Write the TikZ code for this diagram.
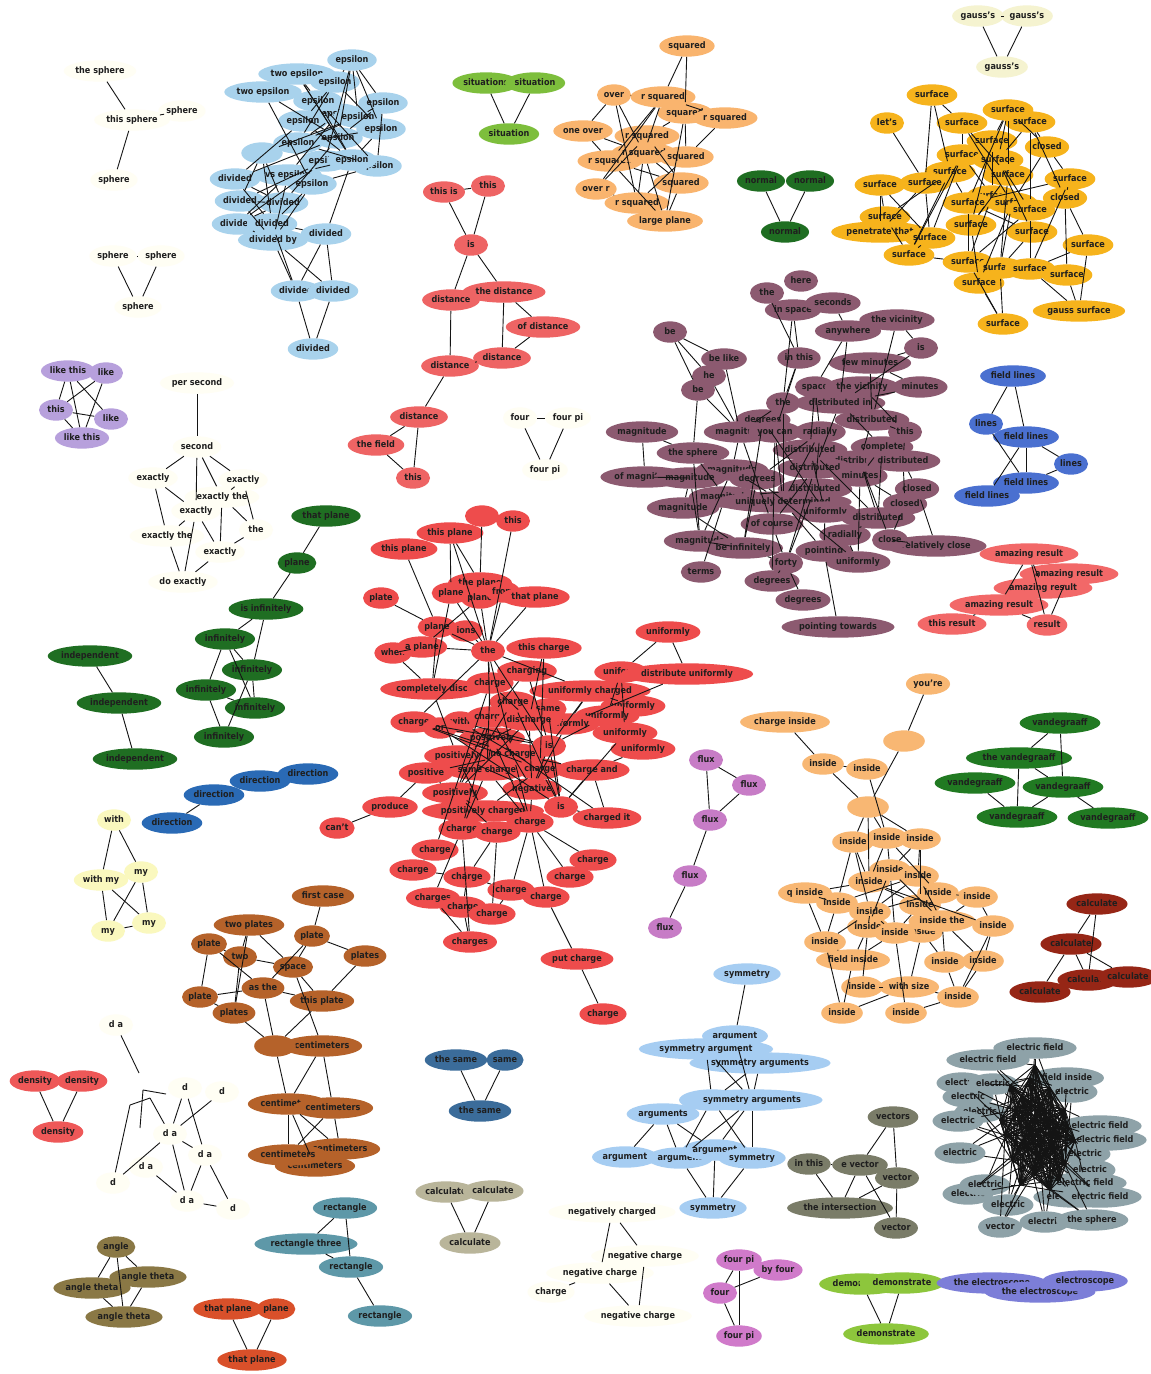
\documentclass[tikz,border=0pt]{standalone}
\usepackage{fontspec}
\setmainfont{DejaVu Sans Condensed}
\usetikzlibrary{shapes.geometric}
\definecolor{cLB}{HTML}{A8D2EC}
\definecolor{cGS}{HTML}{7DBE3C}
\definecolor{cLO}{HTML}{F9B46E}
\definecolor{cDG}{HTML}{1F6E22}
\definecolor{cCR}{HTML}{F5F3D0}
\definecolor{cAM}{HTML}{F6B31C}
\definecolor{cWT}{HTML}{FFFEF4}
\definecolor{cRD}{HTML}{EE6464}
\definecolor{cRB}{HTML}{EE4C4C}
\definecolor{cLV}{HTML}{B7A0DC}
\definecolor{cBL}{HTML}{2A6AB5}
\definecolor{cPY}{HTML}{FAF8BE}
\definecolor{cMV}{HTML}{8C5A70}
\definecolor{cFL}{HTML}{4A70D0}
\definecolor{cPR}{HTML}{F26868}
\definecolor{cFX}{HTML}{C77CC6}
\definecolor{cIN}{HTML}{F8B773}
\definecolor{cVG}{HTML}{217A22}
\definecolor{cDR}{HTML}{962616}
\definecolor{cBR}{HTML}{B5622A}
\definecolor{cDN}{HTML}{EE5858}
\definecolor{cSB}{HTML}{3B6C9A}
\definecolor{cTN}{HTML}{B9B59A}
\definecolor{cTL}{HTML}{5E98A8}
\definecolor{cOL}{HTML}{8A7845}
\definecolor{cOR}{HTML}{D9502A}
\definecolor{cSY}{HTML}{A6CDF2}
\definecolor{cPK}{HTML}{D07ACA}
\definecolor{cGR}{HTML}{7A7C68}
\definecolor{cYG}{HTML}{8DC63C}
\definecolor{cEL}{HTML}{8EA2A8}
\definecolor{cPW}{HTML}{7C7ED8}
\tikzset{
  nd/.style={ellipse, fill=#1, inner xsep=1pt, inner ysep=3.2pt, minimum width=34pt, minimum height=21pt, text height=6.8pt, text depth=1.9pt, font=\fontsize{9}{9}\selectfont\bfseries, text=black!88},
  ed/.style={line width=0.9pt, black!92},
}
\newcommand\mkN[5]{\node[nd=#1] (#2) at (#3,#4) {#5};}
\newcommand\mkE[1]{\foreach \a/\b in {#1} {\draw[ed] (\a) -- (\b);}}
\begin{document}
\begin{tikzpicture}[x=1pt,y=-1pt]
\fill[white] (0,0) rectangle (1151,1374);
\useasboundingbox (0,0) rectangle (1151,1374);
% ---- sphere clusters
\mkN{cWT}{s1}{100}{71}{the sphere}
\mkN{cWT}{s2}{132}{120}{this sphere}
\mkN{cWT}{s3}{182}{111}{sphere}
\mkN{cWT}{s4}{114}{180}{sphere}
\mkN{cWT}{s5}{113}{256}{sphere}
\mkN{cWT}{s6}{161}{256}{sphere}
\mkN{cWT}{s7}{138}{307}{sphere}
% ---- epsilon cluster
\mkN{cLB}{e1}{352}{60}{epsilon}
\mkN{cLB}{e2}{297}{74}{two epsilon}
\mkN{cLB}{e3}{335}{82}{epsilon}
\mkN{cLB}{e4}{263}{92}{two epsilon}
\mkN{cLB}{e5}{318}{101}{epsilon}
\mkN{cLB}{e6}{383}{103}{epsilon}
\mkN{cLB}{e7}{338}{114}{epsilon}
\mkN{cLB}{e8}{358}{117}{epsilon}
\mkN{cLB}{e9}{303}{121}{epsilon}
\mkN{cLB}{e10}{381}{129}{epsilon}
\mkN{cLB}{e11}{338}{138}{epsilon}
\mkN{cLB}{e12}{298}{143}{epsilon}
\mkN{cLB}{e15}{377}{166}{epsilon}
\mkN{cLB}{e13}{325}{161}{epsilon}
\mkN{cLB}{e14}{352}{160}{epsilon}
\mkN{cLB}{e16}{262}{153}{\phantom{epsilo}}
\mkN{cLB}{e17}{235}{179}{divided}
\mkN{cLB}{e18}{288}{175}{vs epsilon}
\mkN{cLB}{e19}{312}{184}{epsilon}
\mkN{cLB}{e20}{240}{201}{divided}
\mkN{cLB}{e21}{283}{203}{divided}
\mkN{cLB}{e22}{237}{224}{divided}
\mkN{cLB}{e23}{272}{224}{divided}
\mkN{cLB}{e24}{273}{240}{divided by}
\mkN{cLB}{e25}{326}{234}{divided}
\mkN{cLB}{e26}{296}{291}{divided}
\mkN{cLB}{e27}{333}{291}{divided}
\mkN{cLB}{e28}{313}{349}{divided}
% ---- situations
\mkN{cGS}{si1}{486}{83}{situations}
\mkN{cGS}{si2}{535}{83}{situation}
\mkN{cGS}{si3}{509}{134}{situation}
% ---- squared
\mkN{cLO}{q1}{687}{46}{squared}
\mkN{cLO}{q2}{614}{95}{over}
\mkN{cLO}{q3}{663}{97}{r squared}
\mkN{cLO}{q4}{685}{113}{squared}
\mkN{cLO}{q5}{725}{118}{r squared}
\mkN{cLO}{q6}{583}{131}{one over}
\mkN{cLO}{q7}{647}{136}{r squared}
\mkN{cLO}{q8}{610}{161}{r squared}
\mkN{cLO}{q9}{644}{153}{r squared}
\mkN{cLO}{q10}{686}{157}{squared}
\mkN{cLO}{q11}{596}{189}{over r}
\mkN{cLO}{q12}{681}{183}{squared}
\mkN{cLO}{q13}{637}{203}{r squared}
\mkN{cLO}{q14}{665}{221}{large plane}
% ---- normal
\mkN{cDG}{n1}{761}{181}{normal}
\mkN{cDG}{n2}{810}{181}{normal}
\mkN{cDG}{n3}{785}{232}{normal}
% ---- gauss's
\mkN{cCR}{g1}{978}{16}{gauss's}
\mkN{cCR}{g2}{1027}{16}{gauss's}
\mkN{cCR}{g3}{1002}{67}{gauss's}
% ---- surface
\mkN{cAM}{u1}{932}{95}{surface}
\mkN{cAM}{u2}{887}{123}{let's}
\mkN{cAM}{u3}{1008}{110}{surface}
\mkN{cAM}{u4}{962}{123}{surface}
\mkN{cAM}{u5}{1030}{122}{surface}
\mkN{cAM}{u6}{992}{141}{surface}
\mkN{cAM}{u7}{1047}{147}{closed}
\mkN{cAM}{u8}{962}{155}{surface}
\mkN{cAM}{u9}{998}{160}{surface}
\mkN{cAM}{u10}{950}{172}{surface}
\mkN{cAM}{u11}{1008}{175}{surface}
\mkN{cAM}{u12}{1070}{179}{surface}
\mkN{cAM}{u13}{880}{185}{surface}
\mkN{cAM}{u14}{925}{183}{surface}
\mkN{cAM}{u15}{992}{196}{surface}
\mkN{cAM}{u16}{1065}{198}{closed}
\mkN{cAM}{u17}{968}{203}{surface}
\mkN{cAM}{u18}{1012}{203}{surface}
\mkN{cAM}{u19}{1030}{210}{surface}
\mkN{cAM}{u20}{885}{217}{surface}
\mkN{cAM}{u21}{880}{232}{penetrate that}
\mkN{cAM}{u22}{930}{238}{surface}
\mkN{cAM}{u23}{971}{225}{surface}
\mkN{cAM}{u24}{1032}{232}{surface}
\mkN{cAM}{u25}{1088}{245}{surface}
\mkN{cAM}{u26}{909}{255}{surface}
\mkN{cAM}{u27}{968}{262}{surface}
\mkN{cAM}{u28}{1000}{268}{surface}
\mkN{cAM}{u29}{1030}{269}{surface}
\mkN{cAM}{u30}{1067}{275}{surface}
\mkN{cAM}{u31}{979}{283}{surface}
\mkN{cAM}{u32}{1079}{311}{gauss surface}
\mkN{cAM}{u33}{1003}{324}{surface}
% ---- distance
\mkN{cRD}{d1}{444}{192}{this is}
\mkN{cRD}{d2}{488}{186}{this}
\mkN{cRD}{d3}{471}{245}{is}
\mkN{cRD}{d4}{451}{300}{distance}
\mkN{cRD}{d5}{504}{292}{the distance}
\mkN{cRD}{d6}{543}{327}{of distance}
\mkN{cRD}{d7}{502}{358}{distance}
\mkN{cRD}{d8}{450}{366}{distance}
\mkN{cRD}{d9}{419}{417}{distance}
\mkN{cRD}{d10}{376}{445}{the field}
\mkN{cRD}{d11}{413}{478}{this}
% ---- four pi (text)
\mkN{cWT}{f1}{520}{418}{four}
\mkN{cWT}{f2}{568}{418}{four pi}
\mkN{cWT}{f3}{545}{470}{four pi}
% ---- like this
\mkN{cLV}{l1}{68}{371}{like this}
\mkN{cLV}{l2}{106}{373}{like}
\mkN{cLV}{l3}{56}{410}{this}
\mkN{cLV}{l4}{111}{419}{like}
\mkN{cLV}{l5}{82}{438}{like this}
% ---- exactly (text)
\mkN{cWT}{x1}{197}{383}{per second}
\mkN{cWT}{x2}{197}{447}{second}
\mkN{cWT}{x3}{153}{478}{exactly}
\mkN{cWT}{x4}{243}{480}{exactly}
\mkN{cWT}{x5}{222}{497}{exactly the}
\mkN{cWT}{x6}{196}{511}{exactly}
\mkN{cWT}{x7}{256}{530}{the}
\mkN{cWT}{x8}{167}{536}{exactly the}
\mkN{cWT}{x9}{220}{552}{exactly}
\mkN{cWT}{x10}{183}{582}{do exactly}
% ---- infinitely
\mkN{cDG}{m1}{326}{516}{that plane}
\mkN{cDG}{m2}{297}{563}{plane}
\mkN{cDG}{m3}{266}{609}{is infinitely}
\mkN{cDG}{m4}{225}{639}{infinitely}
\mkN{cDG}{m5}{252}{670}{infinitely}
\mkN{cDG}{m6}{206}{690}{infinitely}
\mkN{cDG}{m7}{255}{708}{infinitely}
\mkN{cDG}{m8}{224}{737}{infinitely}
% ---- independent
\mkN{cDG}{i1}{90}{656}{independent}
\mkN{cDG}{i2}{119}{703}{independent}
\mkN{cDG}{i3}{135}{759}{independent}
% ---- direction
\mkN{cBL}{r1}{172}{823}{direction}
\mkN{cBL}{r2}{214}{795}{direction}
\mkN{cBL}{r3}{260}{781}{direction}
\mkN{cBL}{r4}{308}{774}{direction}
% ---- with my
\mkN{cPY}{w1}{114}{820}{with}
\mkN{cPY}{w2}{101}{880}{with my}
\mkN{cPY}{w3}{141}{872}{my}
\mkN{cPY}{w4}{108}{931}{my}
\mkN{cPY}{w5}{149}{923}{my}
% ---- big red cluster
\mkN{cRB}{b1}{482}{516}{\phantom{this}}
\mkN{cRB}{b2}{513}{521}{this}
\mkN{cRB}{b3}{450}{533}{this plane}
\mkN{cRB}{b4}{404}{549}{this plane}
\mkN{cRB}{b5}{480}{583}{the plane}
\mkN{cRB}{b6}{451}{593}{plane}
\mkN{cRB}{b7}{480}{598}{plane}
\mkN{cRB}{b8}{503}{592}{from}
\mkN{cRB}{b9}{535}{597}{that plane}
\mkN{cRB}{b10}{381}{598}{plate}
\mkN{cRB}{b12}{466}{631}{ions}
\mkN{cRB}{b11}{437}{627}{plane}
\mkN{cRB}{b14}{393}{653}{when}
\mkN{cRB}{b13}{422}{647}{a plane}
\mkN{cRB}{b15}{488}{651}{the}
\mkN{cRB}{b16}{544}{648}{this charge}
\mkN{cRB}{b17}{527}{671}{charging}
\mkN{cRB}{b18}{432}{689}{completely disc}
\mkN{cRB}{b19}{490}{683}{charge}
\mkN{cRB}{b22}{668}{632}{uniformly}
\mkN{cRB}{b23}{621}{672}{uniform}
\mkN{cRB}{b24}{687}{674}{distribute uniformly}
\mkN{cRB}{b21}{590}{691}{uniformly charged}
\mkN{cRB}{b20}{513}{702}{charge}
\mkN{cRB}{b25}{548}{709}{same}
\mkN{cRB}{b32}{633}{706}{uniformly}
\mkN{cRB}{b33}{607}{716}{uniformly}
\mkN{cRB}{b34}{625}{733}{uniformly}
\mkN{cRB}{b35}{643}{749}{uniformly}
\mkN{cRB}{b26}{414}{722}{charge}
\mkN{cRB}{b28}{460}{722}{with}
\mkN{cRB}{b27}{440}{728}{or}
\mkN{cRB}{b29}{490}{717}{charge}
\mkN{cRB}{b31}{567}{724}{uniformly}
\mkN{cRB}{b30}{529}{720}{discharge}
\mkN{cRB}{b36}{492}{738}{positively}
\mkN{cRB}{b37}{549}{746}{is}
\mkN{cRB}{b38}{457}{756}{positively}
\mkN{cRB}{b39}{513}{754}{no charge}
\mkN{cRB}{b40}{426}{773}{positive}
\mkN{cRB}{b41}{487}{770}{same charge}
\mkN{cRB}{b42}{540}{769}{charge}
\mkN{cRB}{b43}{592}{770}{charge and}
\mkN{cRB}{b44}{532}{789}{negative}
\mkN{cRB}{b45}{455}{793}{positively}
\mkN{cRB}{b46}{390}{807}{produce}
\mkN{cRB}{b47}{561}{807}{is}
\mkN{cRB}{b48}{483}{811}{positively charged}
\mkN{cRB}{b50}{607}{818}{charged it}
\mkN{cRB}{b51}{462}{829}{charge}
\mkN{cRB}{b52}{497}{832}{charge}
\mkN{cRB}{b49}{530}{822}{charge}
\mkN{cRB}{b53}{435}{850}{charge}
\mkN{cRB}{b54}{593}{860}{charge}
\mkN{cRB}{b55}{413}{870}{charge}
\mkN{cRB}{b56}{570}{877}{charge}
\mkN{cRB}{b57}{467}{877}{charge}
\mkN{cRB}{b58}{511}{890}{charge}
\mkN{cRB}{b59}{546}{897}{charge}
\mkN{cRB}{b60}{433}{898}{charges}
\mkN{cRB}{b61}{463}{907}{charge}
\mkN{cRB}{b62}{492}{914}{charge}
\mkN{cRB}{b63}{470}{942}{charges}
\mkN{cRB}{b64}{577}{959}{put charge}
\mkN{cRB}{b65}{603}{1014}{charge}
\mkN{cRB}{b66}{337}{828}{can't}
% ---- purple cluster
\mkN{cMV}{p1}{801}{281}{here}
\mkN{cMV}{p2}{767}{293}{the}
\mkN{cMV}{p3}{793}{310}{in space}
\mkN{cMV}{p4}{833}{303}{seconds}
\mkN{cMV}{p5}{897}{320}{the vicinity}
\mkN{cMV}{p6}{670}{332}{be}
\mkN{cMV}{p7}{848}{331}{anywhere}
\mkN{cMV}{p8}{921}{348}{is}
\mkN{cMV}{p9}{724}{359}{be like}
\mkN{cMV}{p10}{799}{358}{in this}
\mkN{cMV}{p11}{870}{363}{few minutes}
\mkN{cMV}{p12}{709}{376}{he}
\mkN{cMV}{p13}{698}{390}{be}
\mkN{cMV}{p14}{815}{387}{space}
\mkN{cMV}{p15}{862}{387}{the vicinity}
\mkN{cMV}{p16}{920}{387}{minutes}
\mkN{cMV}{p17}{783}{403}{the}
\mkN{cMV}{p18}{840}{403}{distributed in}
\mkN{cMV}{p19}{763}{420}{degrees}
\mkN{cMV}{p20}{872}{420}{distributed}
\mkN{cMV}{p21}{740}{432}{magnitude}
\mkN{cMV}{p22}{775}{432}{you can}
\mkN{cMV}{p23}{820}{432}{radially}
\mkN{cMV}{p24}{905}{432}{this}
\mkN{cMV}{p25}{642}{432}{magnitude}
\mkN{cMV}{p26}{693}{453}{the sphere}
\mkN{cMV}{p27}{882}{447}{complete}
\mkN{cMV}{p28}{810}{450}{distributed}
\mkN{cMV}{p30}{860}{461}{distributed}
\mkN{cMV}{p29}{903}{461}{distributed}
\mkN{cMV}{p31}{732}{470}{magnitude}
\mkN{cMV}{p32}{815}{468}{distributed}
\mkN{cMV}{p33}{645}{477}{of magnitude}
\mkN{cMV}{p34}{690}{478}{magnitude}
\mkN{cMV}{p35}{757}{479}{degrees}
\mkN{cMV}{p36}{860}{476}{minutes}
\mkN{cMV}{p37}{815}{489}{distributed}
\mkN{cMV}{p38}{917}{489}{closed}
\mkN{cMV}{p39}{725}{497}{magnitude}
\mkN{cMV}{p40}{783}{502}{uniquely determined}
\mkN{cMV}{p41}{683}{508}{magnitude}
\mkN{cMV}{p42}{905}{504}{closed}
\mkN{cMV}{p43}{825}{512}{uniformly}
\mkN{cMV}{p44}{878}{518}{distributed}
\mkN{cMV}{p45}{772}{524}{of course}
\mkN{cMV}{p46}{700}{541}{magnitude}
\mkN{cMV}{p47}{743}{548}{be infinitely}
\mkN{cMV}{p48}{845}{535}{radially}
\mkN{cMV}{p50}{936}{546}{relatively close}
\mkN{cMV}{p49}{890}{540}{close}
\mkN{cMV}{p51}{701}{572}{terms}
\mkN{cMV}{p52}{786}{563}{forty}
\mkN{cMV}{p53}{824}{551}{pointing}
\mkN{cMV}{p54}{858}{562}{uniformly}
\mkN{cMV}{p55}{772}{581}{degrees}
\mkN{cMV}{p56}{803}{600}{degrees}
\mkN{cMV}{p57}{838}{627}{pointing towards}
% ---- field lines
\mkN{cFL}{fl1}{1013}{376}{field lines}
\mkN{cFL}{fl2}{986}{424}{lines}
\mkN{cFL}{fl3}{1026}{437}{field lines}
\mkN{cFL}{fl4}{1071}{464}{lines}
\mkN{cFL}{fl5}{1026}{483}{field lines}
\mkN{cFL}{fl6}{987}{496}{field lines}
% ---- amazing result
\mkN{cPR}{a1}{1029}{554}{amazing result}
\mkN{cPR}{a2}{1069}{574}{amazing result}
\mkN{cPR}{a3}{1043}{588}{amazing result}
\mkN{cPR}{a4}{999}{605}{amazing result}
\mkN{cPR}{a5}{952}{624}{this result}
\mkN{cPR}{a6}{1047}{625}{result}
% ---- flux
\mkN{cFX}{fx1}{706}{760}{flux}
\mkN{cFX}{fx2}{749}{785}{flux}
\mkN{cFX}{fx3}{710}{820}{flux}
\mkN{cFX}{fx4}{690}{876}{flux}
\mkN{cFX}{fx5}{665}{928}{flux}
% ---- inside
\mkN{cIN}{v1}{928}{684}{you're}
\mkN{cIN}{v2}{785}{722}{charge inside}
\mkN{cIN}{v3}{904}{741}{\phantom{inside}}
\mkN{cIN}{v4}{823}{764}{inside}
\mkN{cIN}{v5}{867}{769}{inside}
\mkN{cIN}{v6}{868}{807}{\phantom{inside}}
\mkN{cIN}{v7}{853}{842}{inside}
\mkN{cIN}{v8}{887}{838}{inside}
\mkN{cIN}{v9}{920}{839}{inside}
\mkN{cIN}{v10}{890}{870}{inside}
\mkN{cIN}{v11}{918}{876}{inside}
\mkN{cIN}{v12}{869}{882}{inside}
\mkN{cIN}{v13}{938}{893}{inside}
\mkN{cIN}{v14}{805}{893}{q inside}
\mkN{cIN}{v15}{977}{897}{inside}
\mkN{cIN}{v16}{837}{903}{inside}
\mkN{cIN}{v17}{920}{905}{inside}
\mkN{cIN}{v18}{870}{912}{inside}
\mkN{cIN}{v19}{922}{932}{inside}
\mkN{cIN}{v20}{942}{921}{inside the}
\mkN{cIN}{v21}{868}{927}{inside}
\mkN{cIN}{v22}{895}{933}{inside}
\mkN{cIN}{v23}{993}{926}{inside}
\mkN{cIN}{v24}{825}{942}{inside}
\mkN{cIN}{v25}{853}{960}{field inside}
\mkN{cIN}{v26}{945}{962}{inside}
\mkN{cIN}{v27}{983}{961}{inside}
\mkN{cIN}{v28}{862}{987}{inside}
\mkN{cIN}{v29}{909}{987}{with size}
\mkN{cIN}{v30}{958}{997}{inside}
\mkN{cIN}{v31}{842}{1013}{inside}
\mkN{cIN}{v32}{906}{1013}{inside}
% ---- vandegraaff
\mkN{cVG}{vg1}{1060}{723}{vandegraaff}
\mkN{cVG}{vg2}{1019}{758}{the vandegraaff}
\mkN{cVG}{vg3}{975}{783}{vandegraaff}
\mkN{cVG}{vg4}{1063}{787}{vandegraaff}
\mkN{cVG}{vg5}{1017}{817}{vandegraaff}
\mkN{cVG}{vg6}{1108}{818}{vandegraaff}
% ---- calculate dark red
\mkN{cDR}{ca1}{1097}{904}{calculate}
\mkN{cDR}{ca2}{1071}{944}{calculate}
\mkN{cDR}{ca3}{1088}{980}{calculate}
\mkN{cDR}{ca4}{1128}{977}{calculate}
\mkN{cDR}{ca5}{1040}{992}{calculate}
% ---- plates
\mkN{cBR}{y1}{323}{896}{first case}
\mkN{cBR}{y2}{249}{925}{two plates}
\mkN{cBR}{y3}{312}{936}{plate}
\mkN{cBR}{y4}{209}{944}{plate}
\mkN{cBR}{y5}{240}{957}{two}
\mkN{cBR}{y6}{293}{967}{space}
\mkN{cBR}{y7}{365}{956}{plates}
\mkN{cBR}{y8}{263}{988}{as the}
\mkN{cBR}{y9}{200}{997}{plate}
\mkN{cBR}{y10}{322}{1001}{this plate}
\mkN{cBR}{y11}{234}{1013}{plates}
\mkN{cBR}{y13}{322}{1046}{centimeters}
\mkN{cBR}{y12}{275}{1046}{\phantom{inside}}
\mkN{cBR}{y14}{288}{1104}{centimeters}
\mkN{cBR}{y15}{333}{1108}{centimeters}
\mkN{cBR}{y18}{315}{1166}{centimeters}
\mkN{cBR}{y17}{340}{1149}{centimeters}
\mkN{cBR}{y16}{288}{1155}{centimeters}
% ---- density
\mkN{cDN}{dn1}{35}{1081}{density}
\mkN{cDN}{dn2}{82}{1081}{density}
\mkN{cDN}{dn3}{58}{1132}{density}
% ---- d a (text)
\mkN{cWT}{da1}{116}{1025}{d a}
\mkN{cWT}{da2}{185}{1088}{d}
\mkN{cWT}{da3}{222}{1092}{d}
\mkN{cWT}{da4}{170}{1134}{d a}
\mkN{cWT}{da5}{205}{1155}{d a}
\mkN{cWT}{da6}{146}{1167}{d a}
\mkN{cWT}{da7}{113}{1183}{d}
\mkN{cWT}{da8}{187}{1201}{d a}
\mkN{cWT}{da9}{233}{1209}{d}
\coordinate (h1) at (139,1073);
\coordinate (h2) at (143,1090);
\coordinate (h3) at (166,1094);
\coordinate (h4) at (140,1128);
\coordinate (h5) at (150,1098);
\coordinate (h6) at (130,1105);
% ---- the same
\mkN{cSB}{sm1}{456}{1060}{the same}
\mkN{cSB}{sm2}{505}{1060}{same}
\mkN{cSB}{sm3}{480}{1111}{the same}
% ---- calculate tan
\mkN{cTN}{ct1}{446}{1192}{calculate}
\mkN{cTN}{ct2}{493}{1191}{calculate}
\mkN{cTN}{ct3}{470}{1243}{calculate}
% ---- rectangle
\mkN{cTL}{rc1}{345}{1208}{rectangle}
\mkN{cTL}{rc2}{306}{1244}{rectangle three}
\mkN{cTL}{rc3}{351}{1267}{rectangle}
\mkN{cTL}{rc4}{380}{1316}{rectangle}
% ---- angle
\mkN{cOL}{an1}{116}{1247}{angle}
\mkN{cOL}{an2}{148}{1277}{angle theta}
\mkN{cOL}{an3}{92}{1288}{angle theta}
\mkN{cOL}{an4}{124}{1317}{angle theta}
% ---- that plane
\mkN{cOR}{tp1}{228}{1309}{that plane}
\mkN{cOR}{tp2}{276}{1309}{plane}
\mkN{cOR}{tp3}{252}{1360}{that plane}
% ---- symmetry
\mkN{cSY}{sy1}{747}{974}{symmetry}
\mkN{cSY}{sy2}{735}{1036}{argument}
\mkN{cSY}{sy3}{706}{1049}{symmetry argument}
\mkN{cSY}{sy4}{760}{1063}{symmetry arguments}
\mkN{cSY}{sy5}{712}{1100}{argument}
\mkN{cSY}{sy6}{752}{1100}{symmetry arguments}
\mkN{cSY}{sy7}{663}{1114}{arguments}
\mkN{cSY}{sy8}{625}{1157}{argument}
\mkN{cSY}{sy9}{680}{1158}{argument}
\mkN{cSY}{sy10}{715}{1150}{argument}
\mkN{cSY}{sy11}{752}{1158}{symmetry}
\mkN{cSY}{sy12}{713}{1208}{symmetry}
% ---- negatively charged (text)
\mkN{cWT}{ng1}{612}{1212}{negatively charged}
\mkN{cWT}{ng2}{645}{1256}{negative charge}
\mkN{cWT}{ng3}{600}{1273}{negative charge}
\mkN{cWT}{ng4}{551}{1292}{charge}
\mkN{cWT}{ng5}{638}{1316}{negative charge}
% ---- four pi pink
\mkN{cPK}{fp1}{739}{1260}{four pi}
\mkN{cPK}{fp2}{778}{1270}{by four}
\mkN{cPK}{fp3}{720}{1293}{four}
\mkN{cPK}{fp4}{739}{1336}{four pi}
% ---- vectors
\mkN{cGR}{vc1}{893}{1117}{vectors}
\mkN{cGR}{vc2}{809}{1164}{in this}
\mkN{cGR}{vc3}{860}{1165}{e vector}
\mkN{cGR}{vc4}{897}{1178}{vector}
\mkN{cGR}{vc5}{840}{1208}{the intersection}
\mkN{cGR}{vc6}{896}{1228}{vector}
% ---- demonstrate
\mkN{cYG}{dm1}{862}{1284}{demonstrate}
\mkN{cYG}{dm2}{902}{1283}{demonstrate}
\mkN{cYG}{dm3}{886}{1334}{demonstrate}
% ---- electric
\mkN{cEL}{el1}{1035}{1048}{electric field}
\mkN{cEL}{el2}{988}{1060}{electric field}
\mkN{cEL}{el5}{1067}{1078}{field inside}
\mkN{cEL}{el3}{962}{1083}{electric}
\mkN{cEL}{el4}{993}{1084}{electric}
\mkN{cEL}{el6}{1072}{1092}{electric}
\mkN{cEL}{el7}{968}{1097}{electric}
\mkN{cEL}{el8}{980}{1112}{electric}
\mkN{cEL}{el9}{958}{1121}{electric}
\mkN{cEL}{el10}{1100}{1126}{electric field}
\mkN{cEL}{el11}{1105}{1140}{electric field}
\mkN{cEL}{el12}{960}{1153}{electric}
\mkN{cEL}{el13}{1085}{1154}{electric}
\mkN{cEL}{el14}{1090}{1170}{electric}
\mkN{cEL}{el15}{1085}{1183}{electric field}
\mkN{cEL}{el16}{968}{1194}{electric}
\mkN{cEL}{el17}{985}{1185}{electric}
\mkN{cEL}{el19}{1075}{1197}{electric field}
\mkN{cEL}{el18}{1100}{1197}{electric field}
\mkN{cEL}{el20}{1008}{1205}{electric}
\mkN{cEL}{el21}{1000}{1227}{vector}
\mkN{cEL}{el22}{1045}{1222}{electric}
\mkN{cEL}{el23}{1092}{1220}{the sphere}
\coordinate (k1) at (1010,1085);
\coordinate (k2) at (1030,1078);
\coordinate (k3) at (1050,1088);
\coordinate (k4) at (1015,1110);
\coordinate (k5) at (1040,1105);
\coordinate (k6) at (1065,1110);
\coordinate (k7) at (1005,1135);
\coordinate (k8) at (1030,1130);
\coordinate (k9) at (1058,1135);
\coordinate (k10) at (1075,1140);
\coordinate (k11) at (1012,1160);
\coordinate (k12) at (1040,1158);
\coordinate (k13) at (1065,1165);
\coordinate (k14) at (1020,1185);
\coordinate (k15) at (1050,1190);
\coordinate (k16) at (1035,1065);
\coordinate (k17) at (1022,1098);
\coordinate (k18) at (1048,1120);
\coordinate (k19) at (1025,1145);
\coordinate (k20) at (1055,1150);
\coordinate (k21) at (1035,1175);
\coordinate (k22) at (1068,1125);
\coordinate (k23) at (1000,1120);
\coordinate (k24) at (1060,1180);
% ---- electroscope
\mkN{cPW}{es1}{992}{1283}{the electroscope}
\mkN{cPW}{es3}{1040}{1292}{the electroscope}
\mkN{cPW}{es2}{1085}{1281}{electroscope}
% ================= edges
\mkE{s1/s2, s2/s4, s2/s3, s5/s6, s5/s7, s6/s7}
\mkE{e1/e3, e1/e6, e1/e8, e1/e11, e1/e13, e1/e10, e2/e5, e2/e11, e2/e14, e3/e9, e3/e12, e3/e10, e4/e11, e4/e19, e5/e14, e5/e15, e6/e8, e6/e15, e6/e11, e7/e12, e7/e18, e8/e16, e8/e12, e9/e14, e9/e17, e10/e12, e10/e14, e11/e17, e11/e21, e12/e15, e13/e20, e14/e18, e13/e22, e16/e21, e16/e23, e17/e21, e17/e23, e18/e22, e18/e24, e19/e23, e14/e25, e20/e24, e20/e21, e21/e22, e22/e24, e23/e25, e15/e19, e24/e26, e24/e27, e25/e26, e25/e27, e23/e26, e26/e28, e27/e28, e19/e24, e16/e20}
\mkE{si1/si3, si2/si3}
\mkE{q1/q3, q1/q4, q2/q6, q2/q9, q2/q13, q3/q5, q3/q9, q3/q8, q3/q11, q4/q10, q4/q7, q5/q10, q6/q8, q6/q9, q7/q11, q7/q12, q8/q12, q9/q13, q9/q14, q10/q13, q12/q14, q4/q14, q8/q14, q11/q13, q9/q12, q2/q3}
\mkE{n1/n3, n2/n3, g1/g2, g1/g3, g2/g3}
\mkE{u1/u4, u1/u10, u1/u14, u2/u14, u3/u6, u3/u9, u3/u11, u3/u17, u3/u7, u4/u8, u4/u18, u4/u11, u5/u7, u5/u9, u5/u16, u5/u19, u6/u15, u6/u23, u7/u12, u7/u18, u8/u15, u8/u22, u9/u19, u9/u24, u10/u20, u10/u17, u10/u26, u11/u23, u11/u28, u12/u16, u12/u29, u13/u20, u13/u21, u13/u22, u14/u22, u14/u21, u15/u23, u15/u27, u16/u25, u16/u30, u17/u27, u17/u24, u18/u28, u18/u31, u19/u29, u19/u27, u20/u26, u22/u26, u23/u31, u24/u28, u25/u29, u25/u32, u26/u27, u27/u33, u28/u33, u29/u32, u30/u32, u31/u33, u12/u17, u8/u26}
\mkE{d1/d2, d1/d3, d2/d3, d3/d4, d3/d5, d4/d8, d5/d6, d5/d7, d6/d7, d7/d8, d8/d9, d9/d10, d9/d11, d10/d11}
\mkE{f1/f2, f1/f3, f2/f3}
\mkE{l1/l3, l1/l4, l1/l5, l2/l3, l2/l5, l3/l4, l3/l5}
\mkE{x1/x2, x2/x3, x2/x6, x2/x5, x2/x4, x3/x8, x3/x6, x4/x5, x4/x7, x5/x9, x5/x7, x6/x9, x6/x8, x6/x10, x8/x10, x9/x10, x7/x9}
\mkE{m1/m2, m2/m3, m3/m4, m3/m5, m4/m6, m4/m5, m4/m7, m5/m7, m5/m8, m6/m8, m6/m7}
\mkE{i1/i2, i2/i3, r1/r2}
\mkE{w1/w2, w1/w3, w2/w4, w2/w5, w3/w4, w3/w5, w4/w5}
\mkE{b2/b15, b1/b5, b3/b6, b3/b15, b3/b5, b4/b11, b10/b11, b6/b15, b7/b15, b8/b15, b9/b15, b11/b15, b12/b15, b13/b14, b13/b15, b11/b18, b6/b18, b7/b13, b14/b18, b15/b19, b15/b26, b15/b29, b15/b37, b15/b39, b15/b21, b19/b30, b17/b29, b16/b30, b21/b32, b21/b31, b22/b23, b22/b24, b23/b33, b24/b31, b23/b34, b26/b39, b27/b36, b28/b42, b29/b44, b30/b38, b30/b45, b36/b41, b37/b44, b37/b47, b38/b48, b40/b46, b40/b45, b46/b66, b45/b48, b44/b49, b41/b49, b42/b47, b43/b47, b43/b50, b47/b50, b36/b49, b39/b49, b29/b51, b19/b53, b20/b47, b25/b47, b49/b54, b49/b56, b49/b58, b49/b59, b51/b63, b51/b60, b52/b62, b52/b57, b53/b55, b55/b57, b57/b61, b57/b58, b60/b63, b61/b63, b59/b64, b64/b65, b58/b62, b26/b37, b27/b47, b28/b37, b39/b43, b30/b44, b38/b44, b29/b45, b17/b37, b16/b42, b20/b45, b33/b37, b34/b47, b35/b43, b18/b38, b19/b41, b31/b44, b21/b37, b36/b50, b26/b42, b40/b39, b45/b52, b48/b42, b41/b51}
\mkE{p6/p9, p6/p13, p6/p12, p9/p21, p13/p21, p2/p10, p3/p10, p3/p17, p4/p7, p7/p14, p7/p18, p5/p8, p5/p20, p8/p11, p8/p18, p11/p16, p11/p20, p10/p17, p10/p22, p14/p28, p15/p24, p16/p18, p17/p21, p18/p27, p18/p32, p20/p24, p20/p30, p22/p40, p23/p37, p23/p35, p24/p29, p25/p33, p25/p26, p26/p39, p26/p46, p27/p44, p28/p44, p29/p42, p30/p44, p31/p46, p32/p52, p33/p34, p34/p46, p34/p41, p35/p47, p36/p42, p37/p52, p38/p50, p39/p51, p40/p53, p41/p47, p42/p49, p43/p53, p44/p48, p45/p52, p46/p47, p47/p52, p48/p54, p49/p50, p52/p55, p52/p56, p53/p57, p19/p47, p21/p45, p22/p55, p28/p43, p30/p49, p32/p45, p36/p54, p17/p40, p14/p23, p23/p40, p21/p31, p13/p26, p12/p21, p29/p38, p27/p36, p19/p43, p35/p54, p31/p40, p39/p37}
\mkE{fl1/fl2, fl1/fl3, fl2/fl5, fl3/fl4, fl3/fl5, fl3/fl6, fl4/fl5}
\mkE{a1/a4, a1/a6, a1/a3, a2/a6, a4/a6, a4/a5, a1/a2}
\mkE{fx1/fx2, fx1/fx3, fx2/fx3, fx3/fx4, fx4/fx5}
\mkE{v1/v3, v2/v4, v4/v5, v4/v6, v3/v6, v5/v8, v6/v7, v6/v8, v6/v9, v6/v12, v7/v12, v7/v16, v7/v18, v8/v10, v8/v12, v9/v10, v9/v11, v9/v17, v10/v21, v10/v22, v11/v18, v11/v20, v12/v14, v12/v17, v13/v15, v13/v18, v14/v16, v14/v24, v15/v23, v15/v20, v16/v24, v17/v22, v18/v24, v18/v21, v20/v26, v20/v27, v21/v25, v21/v28, v22/v32, v22/v25, v23/v27, v23/v30, v24/v25, v24/v31, v25/v31, v26/v30, v27/v30, v28/v29, v29/v31, v29/v19, v29/v30, v30/v32, v19/v26, v12/v23, v11/v16, v18/v22, v8/v13, v10/v20}
\mkE{vg1/vg2, vg1/vg4, vg2/vg5, vg2/vg4, vg3/vg5, vg4/vg5, vg4/vg6}
\mkE{ca1/ca2, ca1/ca3, ca2/ca5, ca2/ca3, ca2/ca4}
\mkE{y1/y3, y2/y5, y2/y6, y2/y11, y3/y6, y3/y7, y3/y8, y4/y9, y4/y5, y4/y8, y5/y6, y5/y11, y6/y10, y6/y13, y8/y9, y8/y10, y8/y12, y7/y10, y9/y11, y11/y12, y10/y12, y13/y14, y13/y15, y12/y14, y14/y16, y14/y18, y15/y17, y15/y16, y14/y17}
\mkE{dn1/dn3, dn2/dn3}
\mkE{da1/h1, h2/h4, h3/h2, h5/h6, h5/da4, da2/da4, da2/da5, da3/da4, da4/da5, da4/da7, da4/da8, da6/da8, da5/da8, da5/da9, da8/da9, h6/da7}
\mkE{sm1/sm3, sm2/sm3, ct1/ct3, ct2/ct3}
\mkE{rc1/rc2, rc1/rc3, rc2/rc3, rc3/rc4}
\mkE{an1/an3, an1/an2, an1/an4, an3/an4, an2/an4}
\mkE{tp1/tp3, tp2/tp3}
\mkE{sy1/sy2, sy3/sy5, sy3/sy6, sy2/sy6, sy4/sy5, sy4/sy6, sy7/sy8, sy7/sy9, sy7/sy10, sy5/sy9, sy6/sy10, sy6/sy11, sy5/sy11, sy6/sy9, sy9/sy12, sy10/sy12, sy11/sy12}
\mkE{ng1/ng2, ng1/ng3, ng2/ng5, ng3/ng5, ng4/ng3}
\mkE{fp1/fp3, fp1/fp4, fp2/fp3, fp3/fp4}
\mkE{vc1/vc3, vc1/vc4, vc2/vc3, vc2/vc5, vc3/vc5, vc3/vc6, vc4/vc5, vc4/vc6}
\mkE{dm1/dm3, dm2/dm3}
\foreach \i in {1,...,23} {
  \pgfmathtruncatemacro\jj{\i+1}
  \foreach \j in {\jj,...,24} {\draw[ed] (k\i) -- (k\j);}
}
\foreach \n/\p/\q/\r in {el1/16/3/8, el2/1/16/5, el3/1/4/12, el4/2/7/9, el5/3/6/11, el6/6/2/13, el7/4/8/15, el8/5/11/3, el9/7/4/13, el10/10/6/8, el11/10/9/4, el12/11/7/3, el13/13/10/5, el14/13/9/1, el15/15/10/7, el16/14/11/6, el17/14/12/2, el18/15/13/4, el19/15/12/8, el20/14/11/5, el21/14/7/9, el22/15/12/1, el23/13/15/11} {
  \draw[ed] (\n) -- (k\p); \draw[ed] (\n) -- (k\q); \draw[ed] (\n) -- (k\r);
}
\end{tikzpicture}
\end{document}
